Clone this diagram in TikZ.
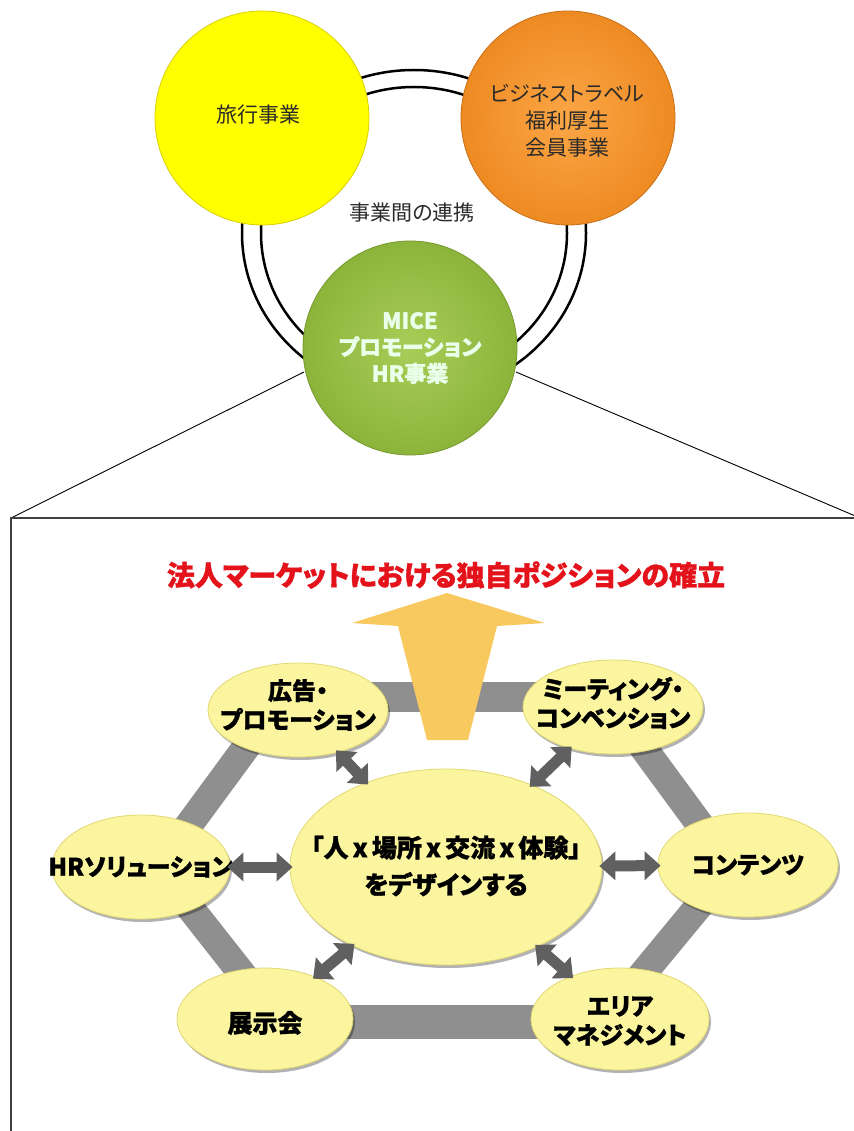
\documentclass[tikz,border=0pt]{standalone}
\usepackage{fontspec}
\setmainfont{Noto Sans CJK JP}[RawFeature=+palt,BoldFeatures={FakeBold=1.2}]
\usetikzlibrary{shapes.geometric,shadows,arrows.meta}
\definecolor{ylw}{HTML}{FFFF00}
\definecolor{ylwedge}{HTML}{D8CF00}
\definecolor{orgin}{HTML}{FBA646}
\definecolor{orgout}{HTML}{EE8A22}
\definecolor{orgedge}{HTML}{C96F18}
\definecolor{grnin}{HTML}{A8CD58}
\definecolor{grnout}{HTML}{8CB43A}
\definecolor{grnedge}{HTML}{76992C}
\definecolor{ellfill}{HTML}{FAF59E}
\definecolor{ellline}{HTML}{E2D872}
\definecolor{bargray}{HTML}{8F8F8F}
\definecolor{arrgray}{HTML}{606060}
\definecolor{bigarrow}{HTML}{F8C95F}
\definecolor{titlered}{HTML}{E3121B}
\definecolor{toptext}{HTML}{2A2A2A}
\begin{document}
\begin{tikzpicture}[x=1pt,y=-1pt,
  ring/.style={draw=black,line width=2.5pt},
  topc/.style={circle,inner sep=0pt,minimum size=214pt},
  toptxt/.style={font=\fontsize{21}{27}\selectfont,align=center,text=toptext},
  ell/.style={ellipse,draw=ellline,line width=0.8pt,fill=ellfill,inner sep=0pt,
    drop shadow={shadow xshift=2pt,shadow yshift=-3pt,opacity=0.3,fill=black}},
  lbl/.style={font=\bfseries\fontsize{24}{29}\selectfont,align=center,text=black},
  bar/.style={draw=bargray,line width=30pt},
  dbl/.style={draw=arrgray,line width=11pt,
    {Triangle[width=28pt,length=16pt]}-{Triangle[width=28pt,length=16pt]},
    shorten <=-3pt,shorten >=-3pt},
  boxline/.style={draw=black!75,line width=1.5pt},
  thin/.style={draw=black,line width=0.9pt}]
\useasboundingbox (0,0) rectangle (853,1131);
\fill[white] (0,0) rectangle (853,1131);

% ---------- upper part ----------
\draw[ring] (414,233) ellipse [x radius=172, y radius=163];
\draw[ring] (414,233) ellipse [x radius=153, y radius=146];

\coordinate (gL) at (304,372);
\coordinate (gR) at (516,372);
\coordinate (boxTL) at (11,518);
\coordinate (boxTR) at (860,518);
\coordinate (boxBL) at (11,1140);
\draw[thin] (gL) -- (boxTL);
\draw[thin] (gR) -- (boxTR);

\node[topc,fill=ylw,draw=ylwedge,line width=0.8pt] (travel) at (262,118) {};
\node[topc,shading=radial,inner color=orgin,outer color=orgout,draw=orgedge,line width=0.8pt] (biz) at (568,118) {};
\node[topc,shading=radial,inner color=grnin,outer color=grnout,draw=grnedge,line width=0.8pt] (mice) at (410,348) {};

\node[toptxt] (travelt) at (258,115) {旅行事業};
\node[toptxt] (bizt) at (567,121) {ビジネストラベル\\福利厚生\\会員事業};
\node[font=\bfseries\fontsize{22}{26.5}\selectfont,align=center,text=white!92!green] (micet) at (410,348) {MICE\\プロモーション\\HR事業};
\node[toptxt] (link) at (412,213) {事業間の連携};

% ---------- lower box ----------
\draw[boxline] (boxBL) -- (boxTL) -- (boxTR);

\node[font=\bfseries\fontsize{28}{32}\selectfont,text=titlered] (title) at (446,575)
  {法人マーケットにおける独自ポジションの確立};

% hexagon vertices
\coordinate (v1) at (283,697);
\coordinate (v2) at (606,697);
\coordinate (v3) at (731,867);
\coordinate (v4) at (603,1022);
\coordinate (v5) at (280,1022);
\coordinate (v6) at (158,867);
\draw[bar] (v1) -- (v2);
\draw[bar,line width=28pt] (v2) -- (v3);
\draw[bar,line width=28pt] (v3) -- (v4);
\draw[bar,line width=34pt] (v4) -- (v5);
\draw[bar,line width=28pt] (v5) -- (v6);
\draw[bar,line width=28pt] (v6) -- (v1);

% big arrow
\fill[bigarrow] (447,593) -- (545,623) -- (497,626) -- (468,740) -- (427,740)
  -- (398,626) -- (352,623) -- cycle;

% ellipses
\node[ell,minimum width=180pt,minimum height=94pt] (ad) at (298,710) {};
\node[ell,minimum width=180pt,minimum height=94pt] (meet) at (613,707) {};
\node[ell,minimum width=178pt,minimum height=104pt] (hr) at (141,867) {};
\node[ell,minimum width=180pt,minimum height=104pt] (cont) at (748,865) {};
\node[ell,minimum width=176pt,minimum height=102pt] (expo) at (265,1019) {};
\node[ell,minimum width=178pt,minimum height=102pt] (area) at (620,1019) {};
\node[ell,minimum width=312pt,minimum height=196pt] (core) at (446,867) {};

\node[lbl] at (298,705) {広告・\\プロモーション};
\node[lbl] at (613,703) {ミーティング・\\コンベンション};
\node[lbl] at (141,867) {HRソリューション};
\node[lbl] at (748,865) {コンテンツ};
\node[lbl,font=\bfseries\fontsize{25}{29}\selectfont] at (265,1023) {展示会};
\node[lbl] at (620,1021) {エリア\\マネジメント};
\node[lbl,font=\bfseries\fontsize{25}{37}\selectfont] at (446,866)
  {「人\,x\,場所\,x\,交流\,x\,体験」\\をデザインする};

% double arrows
\draw[dbl] (ad) -- (core);
\draw[dbl] (meet) -- (core);
\draw[dbl] (hr) -- (core);
\draw[dbl] (cont) -- (core);
\draw[dbl] (expo) -- (core);
\draw[dbl] (area) -- (core);
\end{tikzpicture}
\end{document}
